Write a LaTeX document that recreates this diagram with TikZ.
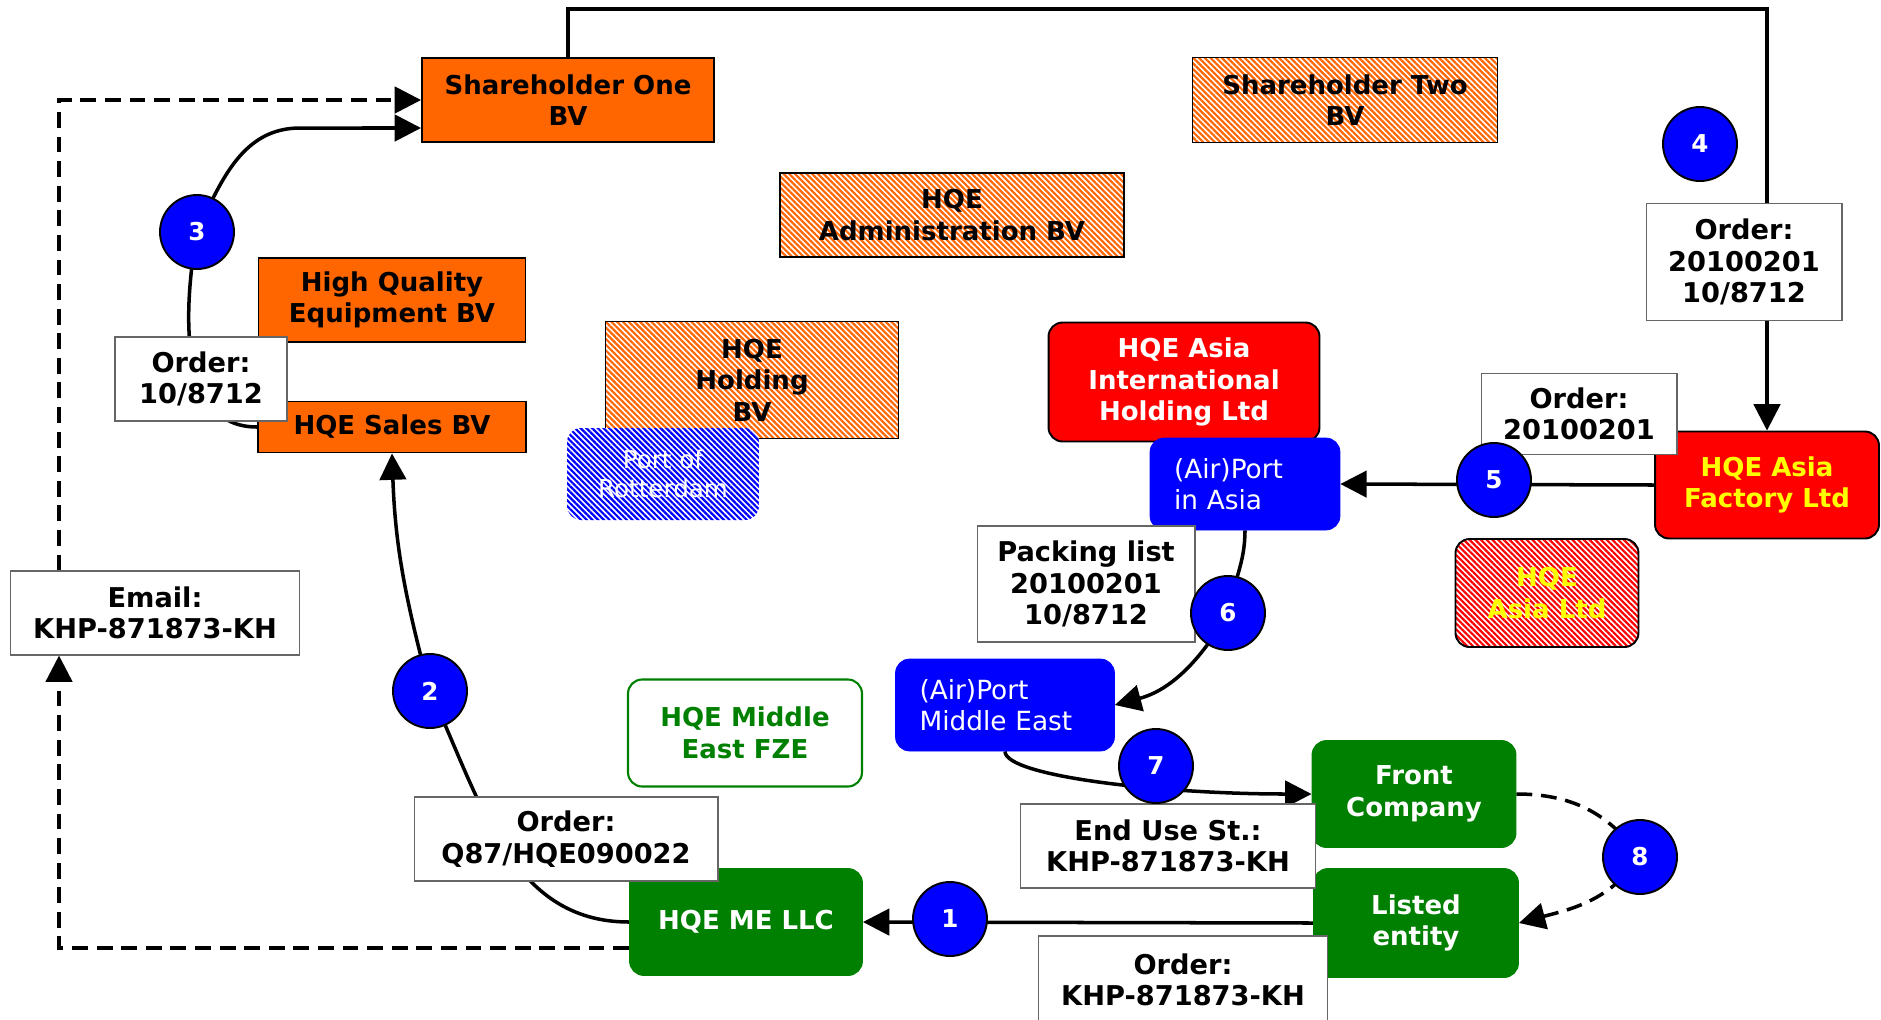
\documentclass[tikz,border=0pt]{standalone}
\usepackage{fontspec}
\setmainfont{DejaVu Sans}
\usepackage{tikz}
\usetikzlibrary{patterns.meta, arrows.meta, backgrounds}
\definecolor{hqorange}{HTML}{FF6600}
\definecolor{hqred}{HTML}{FF0000}
\definecolor{hqblue}{HTML}{0000FF}
\definecolor{hqgreen}{HTML}{008000}
\definecolor{hqyellow}{HTML}{FFFF00}

\begin{document}
\begin{tikzpicture}[x=0.02cm, y=-0.02cm,
    entity/.style={line width=1.1pt, align=center, inner sep=0pt,
      font=\fontsize{14.8}{18}\selectfont\bfseries},
    hatch/.style={preaction={fill=white},
      pattern={Lines[angle=-45,distance=2.3pt,line width=1.25pt]}, pattern color=#1},
    orangebox/.style={entity, draw, fill=hqorange},
    redbox/.style={entity, draw, fill=hqred, rounded corners=8pt, text=white},
    greenbox/.style={entity, draw=hqgreen, fill=hqgreen, rounded corners=8pt, text=white},
    portbox/.style={draw=hqblue, fill=hqblue, rounded corners=8pt, text=white,
      align=left, inner ysep=0pt, inner xsep=0.48cm,
      font=\fontsize{15}{17.5}\selectfont},
    note/.style={draw=black!60, line width=0.6pt, fill=white, align=center,
      inner sep=0pt, font=\fontsize{15.5}{18}\selectfont\bfseries},
    num/.style={circle, draw, line width=1.1pt, fill=hqblue, text=white,
      minimum size=1.48cm, inner sep=0pt, font=\fontsize{14}{16}\selectfont\bfseries},
    arr/.style={line width=2pt, -{Triangle[length=15pt,width=15pt]}},
    dasharr/.style={arr, dash pattern=on 9pt off 5pt},
  ]
  \useasboundingbox (0,0) rectangle (1881,1019);

  % Компании в Нидерландах
  \node[orangebox, minimum width=5.84cm, minimum height=1.68cm] (so) at (568,100) {Shareholder One\\BV};
  \node[entity, draw, line width=0.8pt, hatch=hqorange, minimum width=6.10cm, minimum height=1.70cm] (st) at (1345,100) {Shareholder Two\\BV};
  \node[entity, draw, line width=0.8pt, hatch=hqorange, minimum width=6.88cm, minimum height=1.68cm] (adm) at (952,215) {HQE\\Administration BV};
  \node[orangebox, minimum width=5.34cm, minimum height=1.68cm] (hqeq) at (392,300) {High Quality\\Equipment BV};
  \node[orangebox, minimum width=5.36cm, minimum height=1.02cm] (sales) at (392,427) {HQE Sales BV};
  \node[entity, draw, line width=0.8pt, hatch=hqorange, minimum width=5.86cm, minimum height=2.34cm] (hold) at (752,380) {HQE\\Holding\\BV};
  \node[hatch=hqblue, rounded corners=8pt, text=white, align=center, inner sep=0pt,
    font=\fontsize{14}{16.5}\selectfont, minimum width=3.84cm, minimum height=1.84cm] (port) at (663,474) {Port of\\Rotterdam};

  % Азия
  \node[redbox, minimum width=5.42cm, minimum height=2.38cm] (asiaint) at (1184,382) {HQE Asia\\International\\Holding Ltd};
  \node[portbox, text width=2.84cm, minimum height=1.84cm] (airasia) at (1245,484) {(Air)Port\\in Asia};
  \node[redbox, text=hqyellow, minimum width=4.48cm, minimum height=2.14cm] (factory) at (1767,485) {HQE Asia\\Factory Ltd};
  \node[entity, draw, hatch=hqred, rounded corners=8pt, text=hqyellow, minimum width=3.66cm, minimum height=2.16cm] (asialtd) at (1547,593) {HQE\\Asia Ltd};

  % Ближний Восток
  \node[portbox, text width=3.42cm, minimum height=1.84cm] (airme) at (1005,705) {(Air)Port\\Middle East};
  \node[entity, draw=hqgreen, line width=1.2pt, fill=white, text=hqgreen, rounded corners=8pt, minimum width=4.68cm, minimum height=2.14cm] (fze) at (745,733) {HQE Middle\\East FZE};
  \node[greenbox, minimum width=4.64cm, minimum height=2.12cm] (mellc) at (746,922) {HQE ME LLC};
  \node[greenbox, minimum width=4.06cm, minimum height=2.12cm] (front) at (1414,794) {Front\\Company};
  \node[greenbox, minimum width=4.08cm, minimum height=2.16cm] (listed) at (1416,923) {Listed\\entity};

  % Документы
  \node[note, minimum width=3.44cm, minimum height=1.68cm] (o3) at (201,379) {Order:\\10/8712};
  \node[note, minimum width=5.78cm, minimum height=1.68cm] (email) at (155,613) {Email:\\KHP-871873-KH};
  \node[note, minimum width=6.08cm, minimum height=1.68cm] (o2) at (566,839) {Order:\\Q87/HQE090022};
  \node[note, minimum width=3.92cm, minimum height=2.34cm] (o4) at (1744,262) {Order:\\20100201\\10/8712};
  \node[note, minimum width=3.92cm, minimum height=1.62cm] (o5) at (1579,414) {Order:\\20100201};
  \node[note, minimum width=4.36cm, minimum height=2.32cm] (pack) at (1086,584) {Packing list\\20100201\\10/8712};
  \node[note, minimum width=5.90cm, minimum height=1.68cm] (eus) at (1168,846) {End Use St.:\\KHP-871873-KH};
  \node[note, minimum width=5.78cm, minimum height=1.76cm] (o1) at (1183,980) {Order:\\KHP-871873-KH};

  % Номера шагов
  \node[num] (c1) at (950,919) {1};
  \node[num] (c2) at (430,691) {2};
  \node[num] (c3) at (197,232) {3};
  \node[num] (c4) at (1700,144) {4};
  \node[num] (c5) at (1494,480) {5};
  \node[num] (c6) at (1228,613) {6};
  \node[num] (c7) at (1156,766) {7};
  \node[num] (c8) at (1640,857) {8};

  % Стрелки
  \begin{scope}[on background layer]
    \draw[arr] (listed.west) -- (mellc.east);
    \draw[arr] (mellc.west) to[out=180,in=-65] (c2.center) to[out=105,in=-88] (sales.south);
    \draw[arr] (sales.west) to[out=180,in=-100] (c3.center) to[out=65,in=180] (300,128) -- ([yshift=-0.56cm]so.west);
    \draw[arr] (so.north) -- ++(0,-48) -| (factory.north);
    \draw[arr] (factory.west) -- (airasia.east);
    \draw[arr] (airasia.south) to[out=-90,in=80] (c6.center) to[out=-120,in=15] (airme.east);
    \draw[arr] (airme.south) .. controls +(0,25) and +(-150,0) .. (front.west);
    \draw[dasharr] (front.east) to[out=0,in=125] (c8.center) to[out=-125,in=15] (listed.east);
    \draw[dasharr] ([xshift=-1.92cm]email.north) |- (so.west);
    \draw[dasharr] ([yshift=-0.52cm]mellc.west) -| ([xshift=-1.92cm]email.south);
  \end{scope}

\end{tikzpicture}
\end{document}
